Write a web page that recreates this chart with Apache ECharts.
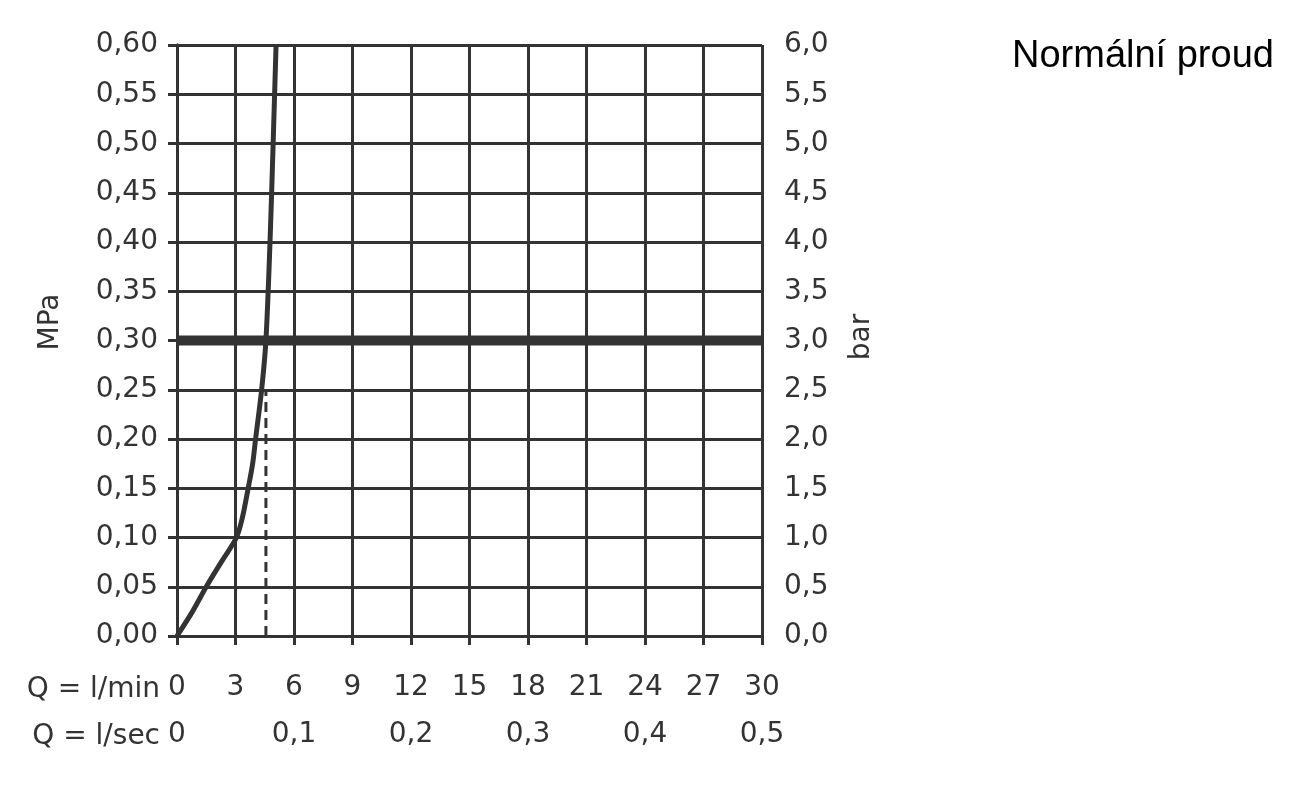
<!DOCTYPE html>
<html>
<head>
<meta charset="utf-8">
<script src="https://cdn.jsdelivr.net/npm/echarts@6/dist/echarts.min.js"></script>
<style>
html,body{margin:0;padding:0;background:#fff;}
#chart{width:1293px;height:785px;}
</style>
</head>
<body>
<div id="chart"></div>
<script>
// Data
const title = 'Normální proud';
const flowLabelMin = 'Q = l/min';
const flowLabelSec = 'Q = l/sec';
const leftAxisName = 'MPa';
const rightAxisName = 'bar';
const curveQ = [0, 0.8, 1.5, 2.3, 3.05, 3.35, 3.65, 3.88, 4.03, 4.34, 4.56, 4.77, 4.93, 5.08];
const curveP = [0, 0.025, 0.05, 0.076, 0.10, 0.12, 0.15, 0.175, 0.20, 0.25, 0.30, 0.40, 0.50, 0.60];
const nominalPressure = 0.30;      // MPa, thick reference line
const ratedFlow = 4.56;            // l/min at 0.3 MPa (dashed line)
const ratedDashTop = 0.25;         // MPa, top of dashed line
const xMin = 0, xMax = 30;

const col = '#333333';
const fam = '"DejaVu Sans", sans-serif';
const fs = 28;
const comma = (v, d) => v.toFixed(d).replace('.', ',');

const chart = echarts.init(document.getElementById('chart'));
chart.setOption({
  animation: false,
  backgroundColor: '#ffffff',
  grid: {left: 177, right: 531, top: 45, bottom: 149},
  xAxis: [{
    type: 'value', min: xMin, max: xMax, interval: 3, position: 'bottom',
    axisLine: {show: true, lineStyle: {color: col, width: 3}},
    axisTick: {show: true, inside: false, length: 9, lineStyle: {color: col, width: 3}},
    splitLine: {show: true, lineStyle: {color: col, width: 3}},
    axisLabel: {color: col, fontSize: fs, fontFamily: fam, margin: 38, formatter: v => String(Math.round(v))}
  }, {
    type: 'value', min: xMin, max: xMax, interval: 6, position: 'bottom', offset: 47,
    axisLine: {show: false}, axisTick: {show: false}, splitLine: {show: false},
    axisLabel: {color: col, fontSize: fs, fontFamily: fam, margin: 38,
      formatter: v => { const s = Math.round(v) / 60; return s === 0 ? '0' : comma(s, 1); }}
  }],
  yAxis: [{
    type: 'value', min: 0, max: 0.6, interval: 0.05, position: 'left',
    axisLine: {show: true, lineStyle: {color: col, width: 3}},
    axisTick: {show: true, inside: false, length: 9, lineStyle: {color: col, width: 3}},
    splitLine: {show: true, lineStyle: {color: col, width: 3}},
    axisLabel: {color: col, fontSize: fs, fontFamily: fam, margin: 19, formatter: v => comma(v, 2)}
  }, {
    type: 'value', min: 0, max: 6, interval: 0.5, position: 'right',
    axisLine: {show: true, lineStyle: {color: col, width: 3}},
    axisTick: {show: true, inside: false, length: 9, lineStyle: {color: col, width: 3}},
    splitLine: {show: false},
    axisLabel: {color: col, fontSize: fs, fontFamily: fam, margin: 22, formatter: v => comma(v, 1)}
  }],
  series: [{
    type: 'line', xAxisIndex: 0, yAxisIndex: 0, symbol: 'none', z: 5,
    lineStyle: {color: col, width: 10},
    data: [[xMin, nominalPressure], [xMax, nominalPressure]]
  }, {
    type: 'line', xAxisIndex: 0, yAxisIndex: 0, symbol: 'none', z: 6,
    lineStyle: {color: col, width: 3, type: [10, 6]},
    data: [[ratedFlow, 0], [ratedFlow, ratedDashTop]]
  }, {
    type: 'line', xAxisIndex: 0, yAxisIndex: 0, symbol: 'none', smooth: 0.3, z: 7,
    lineStyle: {color: col, width: 5},
    data: curveQ.map((q, i) => [q, curveP[i]])
  }],
  graphic: [
    {type: 'text', left: 1012, top: 38, style: {text: title, font: '38px "Liberation Sans", Arial, sans-serif', fill: '#000'}},
    {type: 'text', x: 160, y: 690, style: {text: flowLabelMin, font: fs + 'px ' + fam, fill: col, textAlign: 'right', textVerticalAlign: 'middle'}},
    {type: 'text', x: 160, y: 737, style: {text: flowLabelSec, font: fs + 'px ' + fam, fill: col, textAlign: 'right', textVerticalAlign: 'middle'}},
    {type: 'text', x: 51, y: 322, rotation: Math.PI / 2, style: {text: leftAxisName, font: fs + 'px ' + fam, fill: col, textAlign: 'center', textVerticalAlign: 'middle'}},
    {type: 'text', x: 862, y: 337, rotation: Math.PI / 2, style: {text: rightAxisName, font: fs + 'px ' + fam, fill: col, textAlign: 'center', textVerticalAlign: 'middle'}}
  ]
});
</script>
</body>
</html>
